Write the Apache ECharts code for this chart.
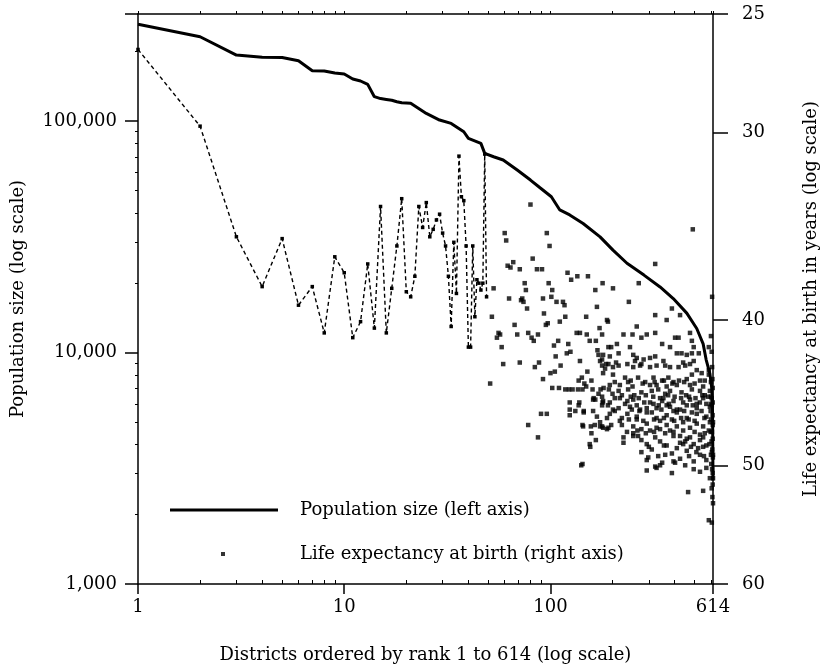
<!DOCTYPE html>
<html>
<head>
<meta charset="utf-8">
<script src="https://cdn.jsdelivr.net/npm/echarts@6/dist/echarts.min.js"></script>
<style>
html,body{margin:0;padding:0;background:#fff;}
#chart{width:822px;height:668px;}
</style>
</head>
<body>
<div id="chart"></div>
<script>
// ---- data ----
const rankTicks = [1, 10, 100, 614];
const rankMinorTicks = [2,3,4,5,6,7,8,9,20,30,40,50,60,70,80,90,200,300,400,500,600];
const popTicks = [1000, 10000, 100000];
const popMinorTicks = [2000,3000,4000,5000,6000,7000,8000,9000,20000,30000,40000,50000,60000,70000,80000,90000,200000];
const lifeTicks = [25, 30, 40, 50, 60];

const popName = 'Population size (left axis)';
const lifeName = 'Life expectancy at birth (right axis)';

// population size by rank (solid line, left axis)
const popLine = [
  [1,261700],[2,231300],[3,192800],[4,188400],[5,188000],[6,182200],[7,164900],[8,164500],
  [9,161200],[10,159600],[11,151800],[12,148900],[13,144000],[14,127400],[15,125000],[16,124000],
  [17,123000],[18,121200],[19,119900],[20,119600],[21,119300],[25,107900],[29,101000],[33,97700],
  [38,89900],[40,84200],[46,80100],[47,79500],[48,72500],[53,70100],[59,67900],[69,61400],
  [80,55600],[89,51500],[101,47100],[111,41300],[124,39300],[144,36100],[174,31600],[201,27700],
  [235,24300],[284,21600],[340,19200],[394,17100],[458,14800],[512,12700],[550,10900],[569,9300],
  [593,8100],[606,7000],[611,5500],[614,2800]
];

// life expectancy, ranks 1..49 (dashed line, right axis)
const lifeLine = [
  26.4,29.7,35.2,38.0,35.3,39.1,38.0,40.8,36.3,37.2,
  41.1,40.1,36.7,40.5,33.6,40.8,38.1,35.7,33.2,38.3,
  38.6,37.4,33.6,34.7,33.4,35.2,34.8,34.3,34.0,35.0,
  35.7,37.4,40.4,35.5,38.4,31.1,33.1,33.3,35.7,41.7,
  41.7,35.7,39.8,37.6,37.8,38.2,37.8,31.0,38.6
];

// life expectancy, remaining ranks (scatter, right axis): [rank, years]
const lifeScatter = [
  [80,33.5],[60,35.0],[61,35.4],[96,35.0],[99,35.7],[82,36.4],[66,36.6],[64,36.9],[71,37.0],[86,37.0],
  [91,37.0],[121,37.2],[126,37.6],[135,37.4],[152,37.4],[53,38.1],[75,37.8],[76,38.2],[98,37.8],[165,38.2],
  [63,38.7],[73,38.7],[74,38.9],[92,38.7],[102,38.2],[101,38.6],[107,38.9],[115,38.9],[117,39.1],[52,39.8],
  [77,39.3],[168,39.2],[93,39.6],[97,40.2],[95,40.3],[111,40.1],[118,39.8],[149,39.8],[190,40.1],[67,40.3],
  [56,40.8],[55,41.1],[69,40.9],[78,40.8],[81,41.1],[83,41.3],[87,40.9],[58,41.7],[104,41.6],[109,41.3],
  [122,41.5],[134,40.8],[139,40.8],[150,40.9],[155,41.3],[166,41.3],[173,40.5],[71,42.7],[59,42.8],[84,43.0],
  [88,42.7],[106,42.3],[120,42.1],[125,42.0],[112,42.9],[169,41.9],[171,42.2],[178,42.5],[186,42.8],[191,41.7],
  [51,44.1],[92,43.8],[100,43.4],[105,43.3],[102,44.4],[110,44.4],[118,44.5],[123,44.5],[128,44.5],[136,44.5],
  [143,44.5],[146,44.1],[137,43.9],[142,43.7],[151,43.3],[158,43.9],[149,44.3],[160,44.5],[175,44.5],[181,44.4],
  [192,44.5],[162,45.1],[171,44.8],[90,46.2],[96,46.2],[124,45.4],[138,45.4],[132,46.0],[145,46.0],[161,46.0],
  [165,45.2],[179,45.4],[144,47.1],[157,47.1],[164,47.0],[174,47.1],[180,47.2],[191,47.2],[78,47.0],[87,47.9],
  [166,48.1],[156,48.6],[141,50.0],[62,36.8],[72,38.8],[57,40.9],[155,48.4],[143,49.9],
  [490,34.8],[322,36.7],[179,37.8],[201,38.1],[268,37.8],[240,38.9],[388,39.3],[425,39.7],[322,39.7],[366,40.0],
  [188,40.0],[262,40.4],[322,40.8],[475,40.8],[226,40.9],[250,40.9],[276,41.1],[293,40.9],[178,40.9],[348,41.5],
  [380,41.7],[402,41.1],[418,41.1],[197,41.7],[210,41.5],[243,41.7],[495,41.7],[586,41.7],[485,41.3],[180,42.2],
  [194,42.3],[214,42.1],[252,42.2],[262,42.4],[283,42.5],[304,42.4],[322,42.3],[410,42.1],[432,42.1],[458,42.2],
  [485,42.1],[524,42.1],[178,42.9],[191,42.8],[201,43.0],[214,42.9],[236,42.8],[252,43.0],[272,42.9],[304,43.0],
  [327,42.9],[360,42.9],[380,43.0],[418,43.0],[450,42.9],[475,42.8],[512,43.2],[541,43.4],[586,43.2],[180,43.4],
  [201,43.5],[230,43.7],[238,44.0],[266,43.7],[288,44.0],[316,43.7],[348,43.9],[373,43.7],[395,44.0],[458,43.8],
  [485,43.5],[531,43.9],[586,43.5],[194,44.2],[217,44.2],[250,44.3],[304,44.2],[327,44.2],[366,44.3],[410,44.2],
  [475,44.2],[550,44.3],[139,42.6],[174,42.6],[184,43.1],[208,42.7],[257,42.6],[276,42.8],[353,42.6],[440,42.7],
  [495,42.6],[214,44.6],[238,44.5],[276,44.7],[310,44.6],[333,44.5],[380,44.6],[432,44.7],[485,44.5],[531,44.6],
  [593,44.6],[200,44.8],[255,44.9],[360,44.8],[455,44.9],[560,44.9],[178,45.0],[205,45.1],[222,44.9],[245,45.0],
  [268,45.1],[290,44.9],[315,45.0],[340,45.1],[372,44.9],[400,45.0],[430,45.1],[470,45.0],[505,45.1],[545,44.9],
  [580,45.0],[605,45.1],[124,45.9],[137,45.6],[161,45.2],[178,45.6],[194,45.4],[214,45.8],[236,45.3],[262,45.6],
  [293,45.8],[316,45.5],[348,45.3],[380,45.7],[410,45.9],[458,45.6],[512,45.8],[570,45.5],[180,45.3],[201,45.9],
  [217,45.1],[243,45.7],[252,45.2],[272,45.9],[304,45.4],[327,45.8],[353,45.1],[366,45.6],[395,45.3],[425,45.9],
  [475,45.2],[512,45.5],[550,45.1],[593,45.7],[612,45.4],[124,46.3],[145,46.1],[168,46.4],[194,46.2],[222,46.5],
  [236,46.2],[262,46.4],[293,46.1],[327,46.5],[366,46.3],[410,46.1],[458,46.5],[512,46.2],[570,46.4],[174,46.8],
  [188,46.5],[197,47.0],[217,46.7],[252,47.1],[262,46.6],[293,46.9],[327,47.2],[340,46.7],[366,47.0],[388,46.6],
  [410,47.1],[440,46.8],[475,47.2],[512,46.9],[550,47.1],[593,46.8],[612,47.0],[143,47.0],[158,47.6],[178,47.1],
  [188,47.3],[222,47.0],[226,47.9],[252,47.6],[276,47.3],[304,47.4],[340,47.3],[380,47.4],[425,47.8],[475,47.9],
  [531,47.7],[586,47.4],[226,48.3],[252,47.8],[276,48.1],[293,48.4],[322,47.9],[340,48.2],[366,48.5],[395,47.8],
  [425,48.3],[458,48.0],[495,48.4],[531,48.1],[570,48.5],[612,48.0],[266,47.8],[450,48.2],[550,47.9],[276,49.0],
  [293,49.6],[310,48.8],[333,49.3],[348,49.8],[388,49.1],[425,49.5],[458,48.9],[495,49.7],[531,49.2],[570,49.6],
  [606,49.0],[613,49.4],[298,49.4],[340,50.0],[402,49.8],[450,50.0],[293,50.4],[327,50.2],[388,50.6],[495,50.3],
  [531,50.5],[570,50.2],[612,50.6],[322,50.1],[395,49.7],[593,51.0],[612,51.5],[605,51.8],[465,52.1],[550,52.0],
  [586,54.4],[606,54.6],[600,41.0],[605,42.0],[608,43.0],[610,43.8],[612,44.4],[600,45.0],[606,45.6],[611,46.3],
  [614,46.8],[598,47.5],[604,48.2],[609,48.8],[614,49.2],[602,49.9],[608,50.3],[614,51.0],[610,52.5],[614,53.0],
  [608,38.6],
  [205,44.0],[245,43.9],[280,44.1],[320,44.0],[355,43.9],[390,44.1],[420,43.9],[445,44.0],[500,44.1],[560,43.9],
  [600,44.0],[190,45.6],[230,45.5],[285,45.4],[335,45.6],[375,45.5],[440,45.4],[490,45.6],[530,45.4],[600,45.5],
  [205,46.0],[248,45.9],[270,46.0],[310,46.1],[345,45.9],[395,46.0],[445,46.0],[485,46.1],[540,46.0],[598,46.0],
  [240,46.6],[282,46.7],[318,46.6],[355,46.5],[398,46.7],[430,46.5],[468,46.6],[500,46.7],[558,46.5],[600,46.6],
  [235,47.5],[264,47.4],[290,47.6],[318,47.5],[360,47.6],[395,47.5],[440,47.4],[500,47.5],[560,47.6],[607,47.5],
  [300,48.6],[355,48.5],[410,48.7],[440,48.4],[480,48.6],[520,48.7],[550,48.6],[590,48.4],[360,49.2],[470,49.3],
  [510,49.0],[555,49.3],[600,49.2]
];

// ---- chart ----
const FONT = 'DejaVu Serif';
const INK = '#000';
const FS = 18;
const chart = echarts.init(document.getElementById('chart'), null, {renderer: 'canvas'});

const option = {
  animation: false,
  backgroundColor: '#fff',
  textStyle: {fontFamily: FONT, color: INK},
  grid: {left: 138, right: 109, top: 14, bottom: 84, containLabel: false, outerBoundsMode: 'none'},
  legend: [
    {
      data: [{name: popName, icon: 'rect'}],
      left: 170, top: 501, padding: 0,
      itemWidth: 108, itemHeight: 3,
      textStyle: {fontFamily: FONT, fontSize: FS, color: INK, padding: [0, 0, 0, 17]},
      selectedMode: false
    },
    {
      data: [{name: lifeName, icon: 'rect'}],
      left: 221, top: 545, padding: 0,
      itemWidth: 4, itemHeight: 4,
      textStyle: {fontFamily: FONT, fontSize: FS, color: INK, padding: [0, 0, 0, 70]},
      selectedMode: false
    }
  ],
  xAxis: [
    {
      type: 'log', logBase: 10, min: 1, max: 614, position: 'bottom',
      name: 'Districts ordered by rank 1 to 614 (log scale)',
      nameLocation: 'middle', nameGap: 62,
      nameTextStyle: {fontFamily: FONT, fontSize: FS, color: INK},
      axisLine: {show: true, lineStyle: {color: INK, width: 1.5}},
      axisTick: {show: true, inside: false, length: 10, customValues: rankTicks, lineStyle: {color: INK, width: 1.5}},
      axisLabel: {show: true, customValues: rankTicks, margin: 14, fontFamily: FONT, fontSize: FS, color: INK,
        formatter: v => String(Math.round(v))},
      splitLine: {show: false}, minorTick: {show: false}
    },
    {
      type: 'log', logBase: 10, min: 1, max: 614, position: 'bottom',
      axisLine: {show: false},
      axisTick: {show: true, inside: true, length: 4, customValues: rankMinorTicks, lineStyle: {color: INK, width: 1}},
      axisLabel: {show: false}, splitLine: {show: false}
    },
    {
      type: 'log', logBase: 10, min: 1, max: 614, position: 'top',
      axisLine: {show: true, lineStyle: {color: INK, width: 1.5}},
      axisTick: {show: true, inside: false, length: 3, customValues: rankMinorTicks.concat(rankTicks), lineStyle: {color: INK, width: 1}},
      axisLabel: {show: false}, splitLine: {show: false}
    }
  ],
  yAxis: [
    {
      type: 'log', logBase: 10, min: 1000, max: 290000, position: 'left',
      name: 'Population size (log scale)',
      nameLocation: 'middle', nameGap: 111,
      nameTextStyle: {fontFamily: FONT, fontSize: FS, color: INK},
      axisLine: {show: true, lineStyle: {color: INK, width: 1.5}},
      axisTick: {show: true, inside: false, length: 13, customValues: popTicks.concat([290000]), lineStyle: {color: INK, width: 1.5}},
      axisLabel: {show: true, customValues: popTicks, margin: 21, fontFamily: FONT, fontSize: FS, color: INK,
        formatter: v => Math.round(v).toLocaleString('en-US')},
      splitLine: {show: false}, minorTick: {show: false}
    },
    {
      type: 'log', logBase: 10, min: 1000, max: 290000, position: 'left',
      axisLine: {show: false},
      axisTick: {show: true, inside: false, length: 3, customValues: popMinorTicks, lineStyle: {color: INK, width: 1}},
      axisLabel: {show: false}, splitLine: {show: false}
    },
    {
      type: 'log', logBase: 10, min: 25, max: 60, inverse: true, position: 'right',
      name: 'Life expectancy at birth in years (log scale)',
      nameLocation: 'middle', nameGap: 89,
      nameTextStyle: {fontFamily: FONT, fontSize: FS, color: INK},
      axisLine: {show: true, lineStyle: {color: INK, width: 1.5}},
      axisTick: {show: true, inside: false, length: 15, customValues: lifeTicks, lineStyle: {color: INK, width: 1.5}},
      axisLabel: {show: true, customValues: lifeTicks, margin: 29, fontFamily: FONT, fontSize: FS, color: INK,
        formatter: v => String(Math.round(v))},
      splitLine: {show: false}, minorTick: {show: false}
    }
  ],
  series: [
    {
      name: popName, type: 'line', xAxisIndex: 0, yAxisIndex: 0,
      data: popLine, symbol: 'none', smooth: false,
      lineStyle: {color: INK, width: 3}, itemStyle: {color: INK}, z: 3
    },
    {
      name: 'lifeDashed', type: 'line', xAxisIndex: 0, yAxisIndex: 2,
      data: lifeLine.map((v, i) => [i + 1, v]),
      symbol: 'rect', symbolSize: 3.5, showSymbol: true,
      lineStyle: {color: INK, width: 1.4, type: [4, 3]}, itemStyle: {color: INK}, z: 2
    },
    {
      name: lifeName, type: 'scatter', xAxisIndex: 0, yAxisIndex: 2,
      data: lifeScatter, symbol: 'rect', symbolSize: 4.5,
      itemStyle: {color: INK}, z: 2
    }
  ]
};
chart.setOption(option);
</script>
</body>
</html>
